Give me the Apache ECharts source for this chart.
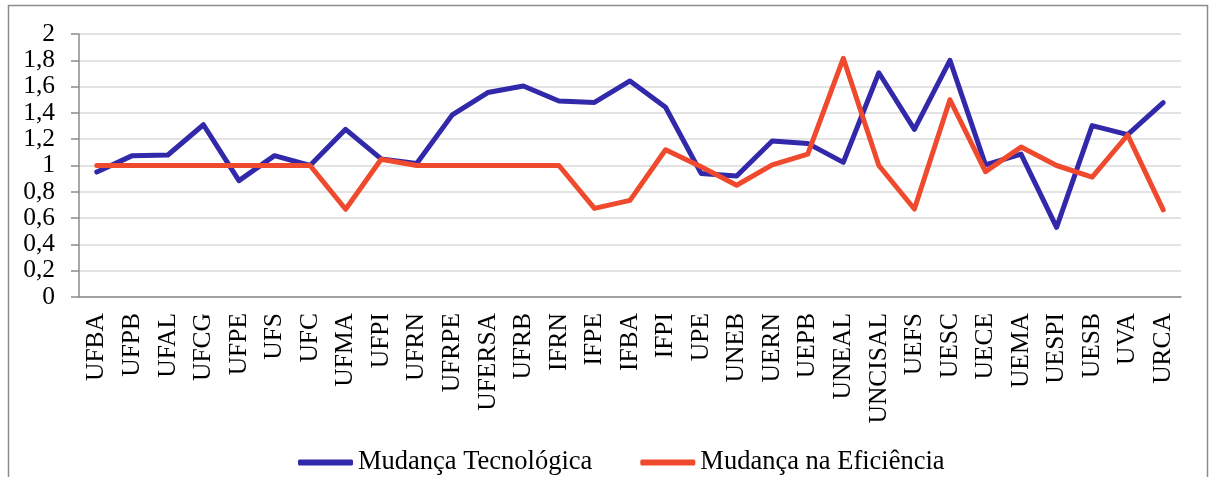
<!DOCTYPE html>
<html>
<head>
<meta charset="utf-8">
<script src="https://cdn.jsdelivr.net/npm/echarts@6/dist/echarts.min.js"></script>
<style>
  html, body { margin: 0; padding: 0; background: #fff; }
  #chart { width: 1210px; height: 477px; }
</style>
</head>
<body>
<div id="chart"></div>
<script>
// categorias (IES)
const universidades = ['UFBA', 'UFPB', 'UFAL', 'UFCG', 'UFPE', 'UFS', 'UFC', 'UFMA', 'UFPI', 'UFRN',
  'UFRPE', 'UFERSA', 'UFRB', 'IFRN', 'IFPE', 'IFBA', 'IFPI', 'UPE', 'UNEB', 'UERN', 'UEPB',
  'UNEAL', 'UNCISAL', 'UEFS', 'UESC', 'UECE', 'UEMA', 'UESPI', 'UESB', 'UVA', 'URCA'];

// series
const mudancaTecnologica = [0.95, 1.075, 1.08, 1.31, 0.885, 1.075, 1.0, 1.275, 1.05, 1.015,
  1.385, 1.555, 1.605, 1.49, 1.48, 1.643, 1.443, 0.94, 0.92, 1.186, 1.168,
  1.024, 1.705, 1.275, 1.8, 1.005, 1.087, 0.53, 1.303, 1.235, 1.478];
const mudancaEficiencia = [1.0, 1.0, 1.0, 1.0, 1.0, 1.0, 1.0, 0.667, 1.047, 1.0,
  1.0, 1.0, 1.0, 1.0, 0.674, 0.735, 1.12, 0.99, 0.85, 1.005, 1.087,
  1.815, 1.0, 0.669, 1.5, 0.953, 1.14, 1.0, 0.912, 1.232, 0.663];

// eixo y
const yMin = 0, yMax = 2, yStep = 0.2;

const fonte = '"Liberation Serif", "Times New Roman", serif';
const corAzul = '#3128aa';
const corVermelha = '#ef4a2d';

let chart = echarts.init(document.getElementById('chart'), null, { renderer: 'canvas' });

chart.setOption({
  animation: false,
  backgroundColor: '#fff',
  graphic: [{
    // moldura externa da figura
    type: 'rect',
    shape: { x: 8.5, y: 5.5, width: 1199, height: 500 },
    style: { fill: 'none', stroke: '#8c8c8c', lineWidth: 1.5 },
    silent: true
  }],
  grid: { left: 79, right: 29, top: 34, bottom: 180, containLabel: false },
  legend: {
    left: 293,
    top: 444,
    itemGap: 48,
    itemWidth: 55,
    itemHeight: 6,
    icon: 'roundRect',
    textStyle: { fontFamily: fonte, fontSize: 26.5, color: '#000' },
    data: ['Mudança Tecnológica', 'Mudança na Eficiência']
  },
  xAxis: {
    type: 'category',
    data: universidades,
    boundaryGap: true,
    axisLine: { lineStyle: { color: '#8c8c8c', width: 1.5 } },
    axisTick: { length: 7, lineStyle: { color: '#8c8c8c', width: 1.5 } },
    axisLabel: {
      interval: 0,
      rotate: 90,
      margin: 16,
      fontFamily: fonte,
      fontSize: 25.5,
      color: '#000'
    },
    splitLine: { show: false }
  },
  yAxis: {
    type: 'value',
    min: yMin,
    max: yMax,
    interval: yStep,
    axisLine: { show: true, lineStyle: { color: '#8c8c8c', width: 1.5 } },
    axisTick: { show: true, length: 8, lineStyle: { color: '#8c8c8c', width: 1.5 } },
    axisLabel: {
      margin: 24,
      fontFamily: fonte,
      fontSize: 25.5,
      color: '#000',
      formatter: v => String(Math.round(v * 10) / 10).replace('.', ',')
    },
    splitLine: { lineStyle: { color: '#e3e3e3', width: 2 } }
  },
  series: [
    {
      name: 'Mudança Tecnológica',
      type: 'line',
      data: mudancaTecnologica,
      showSymbol: false,
      symbol: 'none',
      color: corAzul,
      lineStyle: { color: corAzul, width: 5, cap: 'round', join: 'round' }
    },
    {
      name: 'Mudança na Eficiência',
      type: 'line',
      data: mudancaEficiencia,
      showSymbol: false,
      symbol: 'none',
      color: corVermelha,
      lineStyle: { color: corVermelha, width: 5, cap: 'round', join: 'round' }
    }
  ]
});
</script>
</body>
</html>
